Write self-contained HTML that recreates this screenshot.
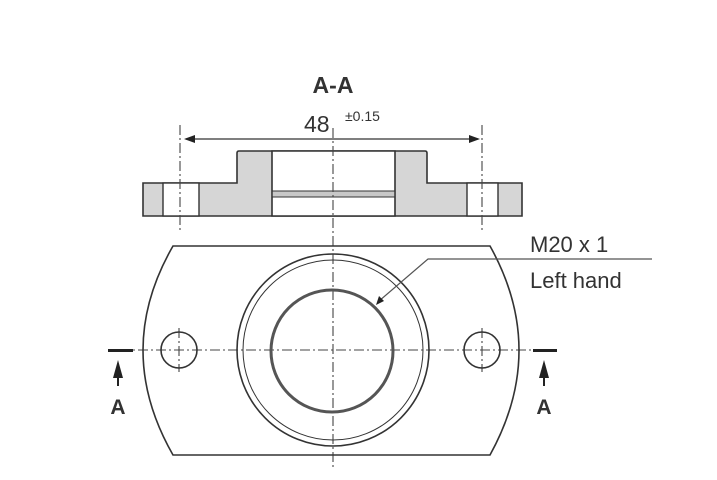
<!DOCTYPE html>
<html><head><style>body{margin:0;background:#fff}svg{display:block}</style></head><body>
<svg width="717" height="480" viewBox="0 0 717 480" xmlns="http://www.w3.org/2000/svg" font-family="Liberation Sans, sans-serif">
<g stroke="#333" fill="none" stroke-width="1.6">
<path d="M143,183 H237 V153 Q237,151 239,151 H425 Q427,151 427,153 V183 H522 V216 H143 Z" fill="#d6d6d6"/>
<rect x="163" y="183" width="36" height="33" fill="#fff" stroke-width="1.4"/>
<rect x="467" y="183" width="31" height="33" fill="#fff" stroke-width="1.4"/>
<path d="M272,151 H395 V216 H272 Z" fill="#fff"/>
<rect x="273" y="191" width="121" height="6" fill="#c8c8c8" stroke="none"/>
<path d="M272,191 H395 M272,197 H395" stroke-width="1"/>
</g>
<g stroke="#444" stroke-width="1.1" fill="none" stroke-dasharray="10,3,2,3">
<path d="M180,125 V232 M482,125 V232 M333,128 V470"/>
<path d="M120,350 H545"/>
<path d="M179,328 V372 M482,328 V372"/>
</g>
<path d="M186,139 H478" stroke="#333" stroke-width="1.2"/>
<path d="M184,139 l11,-4 v8 z M480,139 l-11,-4 v8 z" fill="#222"/>
<text x="333" y="93" font-size="23" font-weight="bold" text-anchor="middle" fill="#333">A-A</text>
<text x="304" y="132" font-size="23" fill="#333">48</text>
<text x="345" y="121" font-size="14" fill="#333">±0.15</text>
<g stroke="#333" fill="none" stroke-width="1.6">
<path d="M173,246 H490 Q548,350 490,455 H173 Q113,350 173,246 Z"/>
<circle cx="333" cy="350" r="96"/>
<circle cx="333" cy="350" r="90" stroke-width="1"/>
<circle cx="332" cy="351" r="61" stroke="#555" stroke-width="3"/>
<circle cx="179" cy="350" r="18"/>
<circle cx="482" cy="350" r="18"/>
</g>
<path d="M379,301 L428,259 H652" stroke="#555" stroke-width="1.2" fill="none"/>
<path d="M376,305 l3,-9 l5,5 z" fill="#222"/>
<text x="530" y="252" font-size="22" fill="#333">M20 x 1</text>
<text x="530" y="288" font-size="22" fill="#333">Left hand</text>
<g fill="#222">
<rect x="108" y="349" width="25" height="3"/>
<rect x="533" y="349" width="24" height="3"/>
<path d="M118,360 l-5,18 h10 z M544,360 l-5,18 h10 z"/>
<rect x="117" y="376" width="2" height="10"/><rect x="543" y="376" width="2" height="10"/>
</g>
<text x="118" y="414" font-size="21" font-weight="bold" text-anchor="middle" fill="#333">A</text>
<text x="544" y="414" font-size="21" font-weight="bold" text-anchor="middle" fill="#333">A</text>
</svg>
</body></html>
